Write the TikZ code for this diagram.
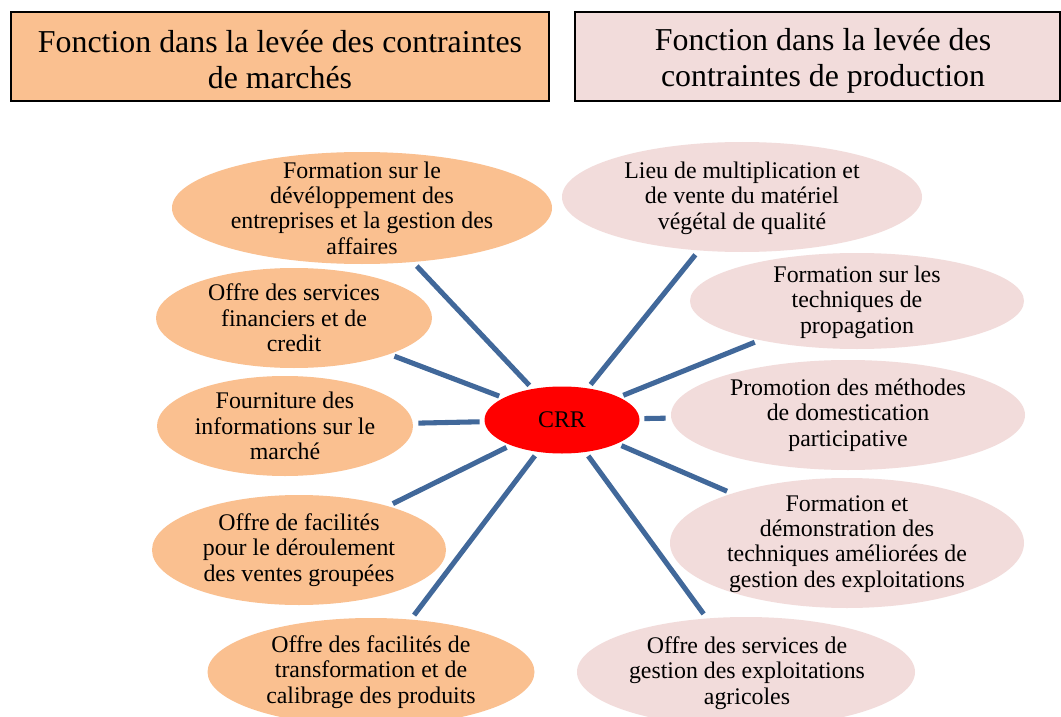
\documentclass[tikz,border=0pt]{standalone}
\usepackage{fontspec}
\setmainfont{Liberation Serif}
\usetikzlibrary{shapes.geometric}
\definecolor{peach}{HTML}{FAC090}
\definecolor{rose}{HTML}{F2DCDB}
\definecolor{linkblue}{HTML}{41689A}
\definecolor{crrred}{HTML}{FF0000}
\tikzset{
  hdrbox/.style 2 args={draw=black, line width=1.5pt, rectangle, inner sep=0pt,
     minimum width=#1*0.75pt, minimum height=#2*0.75pt},
  hdrtxt/.style={align=center, inner sep=0pt, font=\fontsize{23.9}{27}\selectfont},
  bub/.style 2 args={ellipse, draw=none, inner sep=0pt,
     minimum width=#1*0.75pt, minimum height=#2*0.75pt},
  mkt/.style={fill=peach},
  prod/.style={fill=rose},
  btxt/.style={align=center, inner sep=0pt, font=\fontsize{17.9}{19}\selectfont},
  spoke/.style={draw=linkblue, line width=3.8pt, shorten <=3.5pt, shorten >=4pt}
}
\begin{document}
\begin{tikzpicture}[x=0.75pt,y=-0.75pt]
\clip (0,0) rectangle (1061,717);
\fill[white] (0,0) rectangle (1061,717);
% headers
\node[hdrbox={538}{89}, fill=peach] (h1) at (280,56.5) {};
\node[hdrtxt] (h1t) at (280,60) {Fonction dans la levée des contraintes\\de marchés};
\node[hdrbox={485}{89}, fill=rose] (h2) at (817.5,56.5) {};
\node[hdrtxt] (h2t) at (823,61) {Fonction dans la levée des\\contraintes de production};
% centre
\node[bub={155}{67}, fill=crrred] (crr) at (562,420) {};
\node[btxt] (crrt) at (562,420) {CRR};
% left bubbles
\node[bub={380}{112}, mkt] (e1) at (362,208) {};
\node[bub={276}{100}, mkt] (e2) at (294,318) {};
\node[bub={256}{100}, mkt] (e3) at (285,426) {};
\node[bub={294}{110}, mkt] (e4) at (299,550) {};
\node[bub={327}{108}, mkt] (e5) at (371,672) {};
% right bubbles
\node[bub={360}{110}, prod] (e6) at (742,197) {};
\node[bub={334}{96}, prod] (e7) at (857,301) {};
\node[bub={354}{110}, prod] (e8) at (848,415) {};
\node[bub={354}{130}, prod] (e9) at (847,543) {};
\node[bub={338}{110}, prod] (e10) at (746,672) {};
% spokes
\foreach \t in {e1,e2,e3,e4,e5,e6,e7,e8,e9,e10}
  \draw[spoke] (crr) -- (\t);
% texts
\node[btxt] (e1t) at (362,208) {Formation sur le\\dévéloppement des\\entreprises et la gestion des\\affaires};
\node[btxt] (e2t) at (294,318) {Offre des services\\financiers et de\\credit};
\node[btxt] (e3t) at (285,426) {Fourniture des\\informations sur le\\marché};
\node[btxt] (e4t) at (299,550) {Offre de facilités\\pour le déroulement\\des ventes groupées};
\node[btxt] (e5t) at (371,672) {Offre des facilités de\\transformation et de\\calibrage des produits};
\node[btxt] (e6t) at (742,198) {Lieu de multiplication et\\de vente du matériel\\végétal de qualité};
\node[btxt] (e7t) at (857,302) {Formation sur les\\techniques de\\propagation};
\node[btxt] (e8t) at (848,415) {Promotion des méthodes\\de domestication\\participative};
\node[btxt] (e9t) at (847,544) {Formation et\\démonstration des\\techniques améliorées de\\gestion des exploitations};
\node[btxt] (e10t) at (747,673) {Offre des services de\\gestion des exploitations\\agricoles};
\end{tikzpicture}
\end{document}
